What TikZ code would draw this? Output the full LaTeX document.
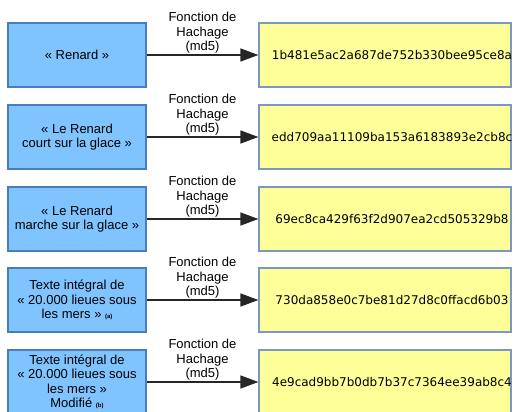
\documentclass[tikz,border=0pt]{standalone}
\usepackage{fontspec}
\setmainfont{Liberation Sans}
\newfontfamily\hashfont{DejaVu Sans}
\usetikzlibrary{arrows.meta}
\definecolor{srcfill}{HTML}{80C4FF}
\definecolor{srcdraw}{HTML}{4A7EBB}
\definecolor{hashfill}{HTML}{FFFF99}
\definecolor{hashdraw}{HTML}{7A98C0}
\begin{document}
\begin{tikzpicture}[x=1pt,y=-1pt,
 srcbox/.style={draw=srcdraw, fill=srcfill, line width=1.2pt, minimum width=138pt, minimum height=64pt, inner sep=0pt, align=center, font=\fontsize{13}{14.5}\selectfont},
 hashbox/.style={draw=hashdraw, fill=hashfill, line width=1.2pt, minimum width=252pt, minimum height=64pt, inner sep=0pt},
 hashtxt/.style={font=\hashfont\fontsize{12}{14}\selectfont, inner sep=0pt},
 conn/.style={draw=black!85, line width=1.4pt, -{Triangle[length=18pt,width=13pt]}},
 lab/.style={font=\fontsize{13}{14.5}\selectfont, align=center, inner sep=0pt, yshift=22pt}
]
\useasboundingbox (0,0) rectangle (515,412);
\newcommand\refmark[1]{{\fontsize{6}{6}\selectfont\bfseries (#1)}}

\node[srcbox] (s1) at (77,55) {« Renard »};
\node[hashbox] (h1) at (385,55) {};
\node[hashtxt] (t1) at (392,55) {1b481e5ac2a687de752b330bee95ce8a};
\draw[conn] (s1) -- node[lab] (f1) {Fonction de\\Hachage\\(md5)} (h1);

\node[srcbox] (s2) at (77,137) {« Le Renard\\court sur la glace »};
\node[hashbox] (h2) at (385,137) {};
\node[hashtxt] (t2) at (392,137) {edd709aa11109ba153a6183893e2cb8c};
\draw[conn] (s2) -- node[lab] (f2) {Fonction de\\Hachage\\(md5)} (h2);

\node[srcbox] (s3) at (77,219) {« Le Renard\\marche sur la glace »};
\node[hashbox] (h3) at (385,219) {};
\node[hashtxt] (t3) at (392,219) {69ec8ca429f63f2d907ea2cd505329b8};
\draw[conn] (s3) -- node[lab] (f3) {Fonction de\\Hachage\\(md5)} (h3);

\node[srcbox] (s4) at (77,300) {Texte intégral de\\« 20.000 lieues sous\\les mers » \refmark{a}};
\node[hashbox] (h4) at (385,300) {};
\node[hashtxt] (t4) at (392,300) {730da858e0c7be81d27d8c0ffacd6b03};
\draw[conn] (s4) -- node[lab] (f4) {Fonction de\\Hachage\\(md5)} (h4);

\node[srcbox] (s5) at (77,382) {Texte intégral de\\« 20.000 lieues sous\\les mers »\\Modifié \refmark{b}};
\node[hashbox] (h5) at (385,382) {};
\node[hashtxt] (t5) at (392,382) {4e9cad9bb7b0db7b37c7364ee39ab8c4};
\draw[conn] (s5) -- node[lab] (f5) {Fonction de\\Hachage\\(md5)} (h5);
\end{tikzpicture}
\end{document}
